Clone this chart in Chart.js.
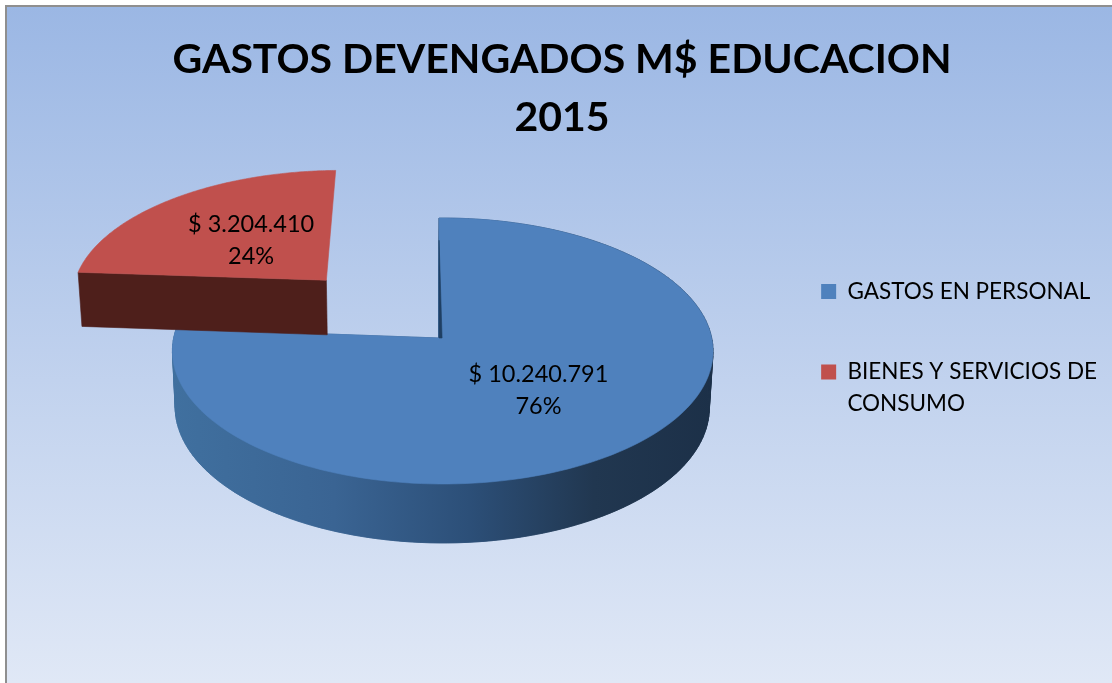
<!DOCTYPE html>
<html>
<head>
<meta charset="utf-8">
<title>Gastos devengados</title>
<script src="https://cdn.jsdelivr.net/npm/chart.js@4"></script>
<style>
html, body { margin: 0; padding: 0; background: #fff; overflow: hidden; }
#panel {
    position: absolute; left: 5px; top: 5px; width: 1105px; height: 676px;
    border-left: 2px solid #8f8f8f; border-top: 2px solid #8f8f8f;
    background: linear-gradient(to bottom, #9bb7e4 0%, #e0e8f6 100%);
}
#chart { position: absolute; left: 0; top: 0; }
</style>
</head>
<body>
<div id="panel"></div>
<canvas id="chart" width="1112" height="683"></canvas>
<script>
var titleLines = ['GASTOS DEVENGADOS M$ EDUCACION', '2015'];
var categories = ['GASTOS EN PERSONAL', 'BIENES Y SERVICIOS DE CONSUMO'];
var legendLines = ['GASTOS EN PERSONAL', ['BIENES Y SERVICIOS DE', 'CONSUMO']];
var values = [10240791, 3204410];
var faceColors = ['#4f81bd', '#c0504d'];
var offsets = [0, 85];
var labelRadius = [0.52, 0.47];

// perspective of the tilted pie
var view = { shiftX: 49, shiftY: -8, explodedX: -3, b: 269, a: 131.7, k: -0.0977, m: -0.0135, depth: 56, converge: 0.012 };
var legendShift = { x: -5, y: 85 };

function money(v) {
    return '$ ' + String(v).replace(/\B(?=(\d{3})+$)/g, '.');
}

function project(arc, u, v) {
    var d = 1 + view.k * v + view.m * u;
    return {
        x: arc.x + view.shiftX + (arc.options.offset ? view.explodedX : 0) + view.b * u / d,
        y: arc.y + view.shiftY + view.a * v / d,
        d: d
    };
}

function lower(p) {
    return {
        x: p.x - (p.x - 400) * view.converge,
        y: p.y + view.depth / Math.sqrt(p.d)
    };
}

function arcUnit(arc, angle, r) {
    var mid = (arc.startAngle + arc.endAngle) / 2;
    var off = arc.options.offset / arc.outerRadius;
    return {
        u: off * Math.cos(mid) + r * Math.cos(angle),
        v: off * Math.sin(mid) + r * Math.sin(angle)
    };
}

function outline(arc) {
    var pts = [];
    var c = arcUnit(arc, 0, 0);
    pts.push(project(arc, c.u, c.v));
    var steps = 160;
    for (var i = 0; i <= steps; i++) {
        var a = arc.startAngle + (arc.endAngle - arc.startAngle) * i / steps;
        var p = arcUnit(arc, a, 1);
        pts.push(project(arc, p.u, p.v));
    }
    return pts;
}

function fillPoly(ctx, pts, style) {
    ctx.beginPath();
    pts.forEach(function(p, i) {
        if (i == 0) ctx.moveTo(p.x, p.y); else ctx.lineTo(p.x, p.y);
    });
    ctx.closePath();
    ctx.fillStyle = style;
    ctx.strokeStyle = style;
    ctx.lineWidth = 0.6;
    ctx.fill();
    ctx.stroke();
}

var pie3d = {
    id: 'pie3d',
    afterLayout: function(chart) {
        var lg = chart.legend;
        lg.left += legendShift.x;
        lg.right += legendShift.x;
        lg.top += legendShift.y;
        lg.bottom += legendShift.y;
    },
    beforeDatasetsDraw: function(chart) {
        var ctx = chart.ctx;
        var arcs = chart.getDatasetMeta(0).data;
        var blueWall = ctx.createLinearGradient(172, 0, 713, 0);
        blueWall.addColorStop(0, '#40709f');
        blueWall.addColorStop(0.3, '#3a6493');
        blueWall.addColorStop(0.55, '#2c4f78');
        blueWall.addColorStop(0.78, '#213750');
        blueWall.addColorStop(1, '#1c3048');

        arcs.forEach(function(arc, idx) {
            var pts = outline(arc);
            var low = pts.map(lower);
            if (idx == 0) {
                fillPoly(ctx, low, blueWall);
                for (var i = 0; i < pts.length; i++) {
                    var j = (i + 1) % pts.length;
                    fillPoly(ctx, [pts[i], pts[j], low[j], low[i]], blueWall);
                }
            } else {
                // the exploded slice only shows the cut face toward the viewer
                fillPoly(ctx, [pts[0], pts[1], low[1], low[0]], '#4e1f1b');
            }
            fillPoly(ctx, pts, faceColors[idx]);
            if (idx == 0) {
                // thin dark inner wall showing at the notch
                var c = pts[0], t = arcUnit(arc, arc.startAngle, 0.8);
                var q = project(arc, t.u, t.v);
                fillPoly(ctx, [c, q, { x: c.x + 3, y: c.y }], '#1f3f63');
            }
        });
        return false;
    },
    afterDraw: function(chart) {
        var ctx = chart.ctx;
        var arcs = chart.getDatasetMeta(0).data;
        var total = values[0] + values[1];
        ctx.save();
        ctx.font = '23.5px Lato';
        ctx.fillStyle = '#000';
        ctx.textAlign = 'center';
        ctx.textBaseline = 'middle';
        arcs.forEach(function(arc, idx) {
            var mid = (arc.startAngle + arc.endAngle) / 2;
            var p = arcUnit(arc, mid, labelRadius[idx]);
            var pos = project(arc, p.u, p.v);
            ctx.fillText(money(values[idx]), pos.x, pos.y - 16);
            ctx.fillText(Math.round(values[idx] / total * 100) + '%', pos.x, pos.y + 16);
        });
        ctx.restore();
    }
};

var chart = new Chart(document.getElementById('chart').getContext('2d'), {
    type: 'pie',
    data: {
        labels: categories,
        datasets: [{
            data: values,
            backgroundColor: faceColors,
            offset: offsets,
            borderWidth: 0,
            clip: false
        }]
    },
    options: {
        responsive: false,
        animation: false,
        radius: 135,
        layout: { padding: { left: 12, right: 0, top: 0, bottom: 148 } },
        plugins: {
            title: {
                display: true,
                text: titleLines,
                color: '#000',
                font: { family: 'Lato', weight: 'bold', size: 41, lineHeight: '58px' },
                padding: { top: 31, bottom: 10 }
            },
            legend: {
                position: 'right',
                labels: {
                    boxWidth: 15,
                    boxHeight: 15,
                    padding: 58,
                    color: '#000',
                    font: { family: 'Lato', size: 22.5, lineHeight: '32px' },
                    generateLabels: function() {
                        return legendLines.map(function(text, i) {
                            return { text: text, fillStyle: faceColors[i], strokeStyle: faceColors[i], lineWidth: 0, index: i };
                        });
                    }
                }
            },
            tooltip: { enabled: false }
        }
    },
    plugins: [pie3d]
});
</script>
</body>
</html>
